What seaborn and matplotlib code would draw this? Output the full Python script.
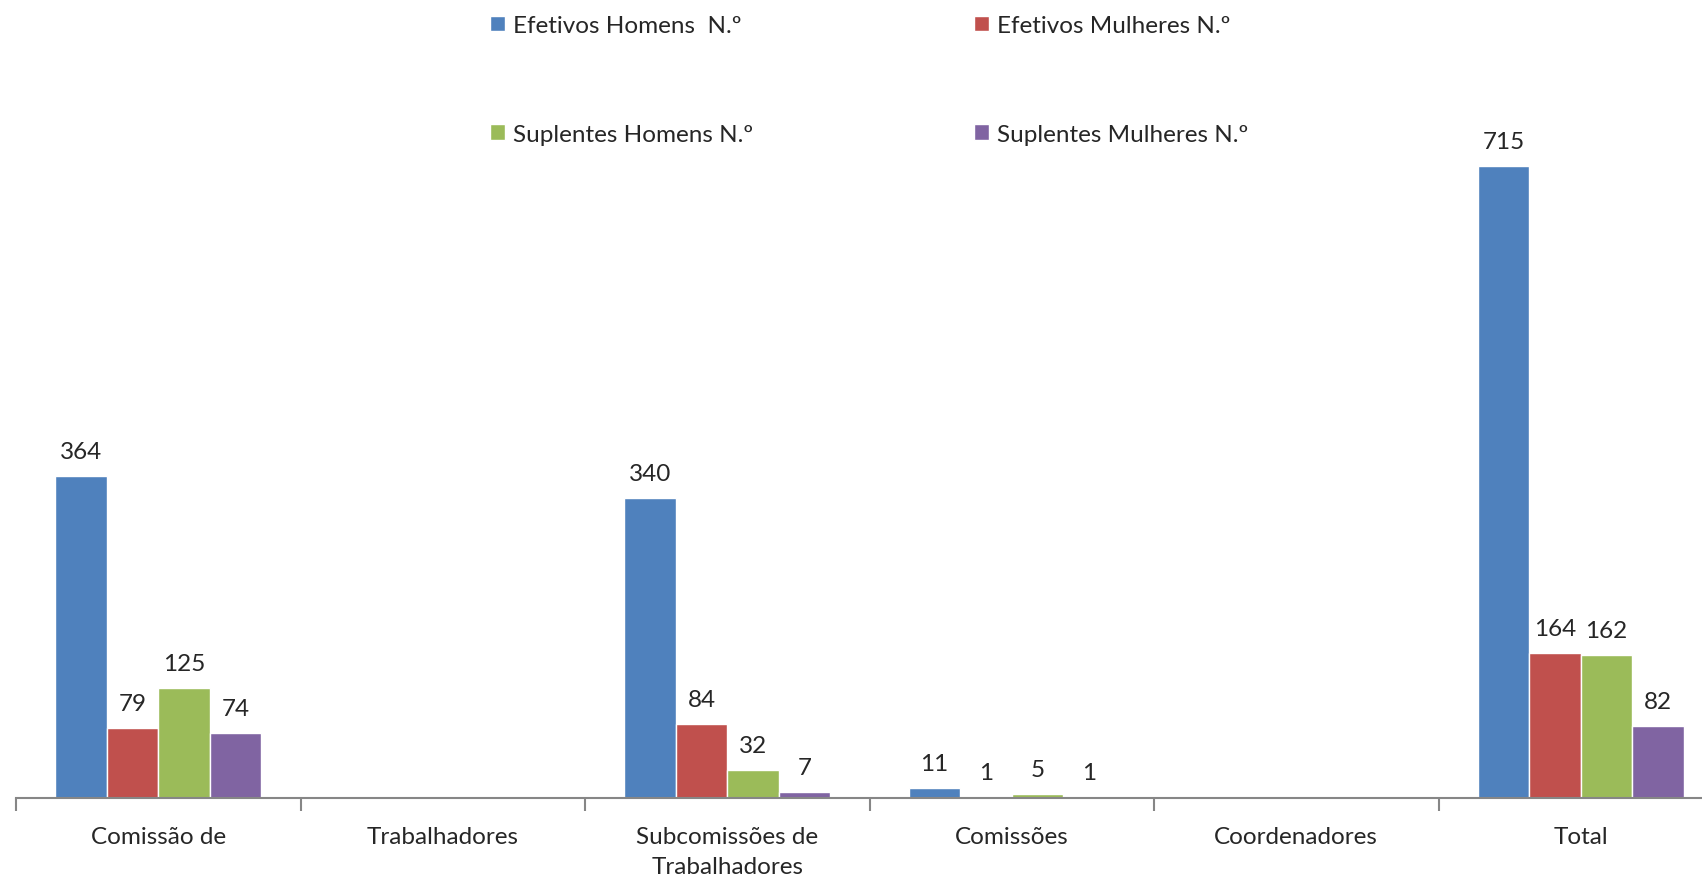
import matplotlib.pyplot as plt
import pandas as pd
import seaborn as sns

categorias = ['Comissão de', 'Trabalhadores', 'Subcomissões de\nTrabalhadores',
              'Comissões', 'Coordenadores', 'Total']
series = ['Efetivos Homens  N.º', 'Efetivos Mulheres N.º',
          'Suplentes Homens N.º', 'Suplentes Mulheres N.º']
efetivos_homens = [364, None, 340, 11, None, 715]
efetivos_mulheres = [79, None, 84, 1, None, 164]
suplentes_homens = [125, None, 32, 5, None, 162]
suplentes_mulheres = [74, None, 7, 1, None, 82]
cores = ['#4F81BD', '#C0504D', '#9BBB59', '#8064A2']

valores = [efetivos_homens, efetivos_mulheres, suplentes_homens, suplentes_mulheres]
linhas = []
for serie, vals in zip(series, valores):
    for cat, v in zip(categorias, vals):
        if v is not None:
            linhas.append({'categoria': cat, 'serie': serie, 'valor': v})
df = pd.DataFrame(linhas)

sns.set_style('white')
plt.rcParams['font.family'] = ['Lato', 'DejaVu Sans']
fs = 17.5

W, H = 1702, 878
fig = plt.figure(figsize=(W / 100, H / 100), dpi=100)
# plot area runs past the right edge of the picture, like the original crop
ax = fig.add_axes([16 / W, (H - 799) / H, 1707 / W, 707 / H])

sns.barplot(data=df, x='categoria', y='valor', hue='serie', order=categorias,
            hue_order=series, palette=cores, width=0.724, errorbar=None,
            saturation=1, ax=ax)

for cont in ax.containers:
    ax.bar_label(cont, fmt='%d', padding=10, fontsize=fs)

ax.set_xlim(-0.5, 5.5)
ax.set_ylim(0, 800)
ax.set_xlabel('')
ax.set_ylabel('')
ax.set_yticks([])
for s in ['left', 'top', 'right']:
    ax.spines[s].set_visible(False)
ax.spines['bottom'].set_color('#868686')
ax.spines['bottom'].set_linewidth(1.5)

ax.tick_params(axis='x', which='major', length=0, pad=20, labelsize=fs)
for t in ax.get_xticklabels():
    t.set_linespacing(1.55)
ax.set_xticks([i - 0.5 for i in range(len(categorias) + 1)], minor=True)
ax.tick_params(axis='x', which='minor', bottom=True, length=9, width=1.5,
               color='#868686', direction='out')

handles, labels = ax.get_legend_handles_labels()
ax.get_legend().remove()
ordem = [0, 2, 1, 3]
fig.legend([handles[i] for i in ordem], [labels[i] for i in ordem],
           loc='upper left', bbox_to_anchor=(490 / W, 1 - 16 / H), ncol=2,
           frameon=False, fontsize=fs, handlelength=0.6, handleheight=0.6,
           handletextpad=0.35, labelspacing=3.6, columnspacing=9.1,
           borderpad=0, borderaxespad=0)

fig.savefig('out.png', dpi=100)
